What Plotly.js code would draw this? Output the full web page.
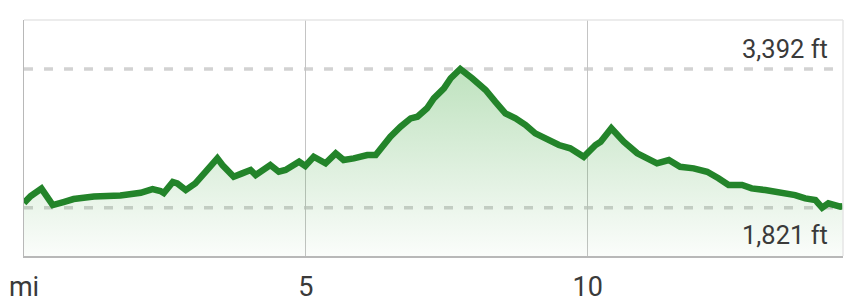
<!DOCTYPE html>
<html>
<head>
<meta charset="utf-8">
<script src="https://cdn.plot.ly/plotly-3.0.1.min.js"></script>
<style>html,body{margin:0;padding:0;background:#fff;}#chart{width:859px;height:304px;}</style>
</head>
<body>
<div id="chart"></div>
<script>
// Distance along the trail (miles)
var distanceMi = [0.00,0.12,0.31,0.40,0.51,0.70,0.88,1.24,1.71,2.07,2.28,2.42,2.48,2.64,2.72,2.87,3.04,3.22,3.43,3.52,
  3.72,3.87,4.02,4.11,4.37,4.52,4.64,4.88,4.99,5.14,5.35,5.53,5.67,5.85,6.09,6.24,6.50,6.68,6.86,6.98,
  7.15,7.27,7.45,7.57,7.74,7.95,8.19,8.36,8.54,8.72,8.90,9.07,9.25,9.49,9.69,9.93,10.14,10.23,10.42,10.64,
  10.88,11.08,11.23,11.44,11.64,11.88,12.12,12.32,12.50,12.74,12.91,13.15,13.33,13.51,13.68,13.86,14.04,14.16,14.27,14.48,14.53];
// Elevation (feet)
var elevationFt = [1874,1953,2038,1964,1851,1885,1919,1947,1959,1990,2032,2010,1987,2112,2097,2021,2097,2228,2380,2304,
  2172,2210,2248,2191,2304,2228,2248,2342,2293,2398,2324,2437,2361,2380,2418,2418,2625,2738,2833,2852,
  2947,3060,3173,3287,3392,3287,3154,3022,2890,2833,2758,2663,2607,2531,2494,2398,2531,2568,2720,2568,
  2437,2380,2324,2361,2285,2267,2228,2154,2078,2078,2040,2021,2002,1984,1964,1927,1908,1821,1870,1832,1840];
var xTickVals = [0, 5, 10];
var xTickText = ["mi", "5", "10"];
var maxElev = 3392;
var minElev = 1821;
var xRange = [0, 14.53];
var yRange = [1274, 3947];

function fmt(v){ return v.toLocaleString('en-US') + ' ft'; }

var trace = {
  x: distanceMi, y: elevationFt, type: 'scatter', mode: 'lines',
  line: {color: '#23842a', width: 6.5, shape: 'linear'},
  fill: 'tozeroy',
  fillgradient: {type: 'vertical', start: yRange[0], stop: maxElev,
    colorscale: [[0, 'rgba(40,150,40,0.02)'], [1, 'rgba(40,160,40,0.3)']]},
  hoverinfo: 'none'
};

var layout = {
  width: 859, height: 304,
  margin: {l: 24, r: 16, t: 20, b: 48},
  paper_bgcolor: '#ffffff', plot_bgcolor: '#ffffff',
  showlegend: false,
  font: {family: 'Roboto, sans-serif', color: '#3a3a3a'},
  xaxis: {range: xRange, tickvals: xTickVals, ticktext: xTickText, showgrid: true,
    gridcolor: '#c4c4c4', gridwidth: 1, zeroline: false, showline: true, linecolor: '#b8b8b8', linewidth: 1.5,
    ticks: '', ticklabelstandoff: 6, tickfont: {size: 27, color: '#3a3a3a'}, fixedrange: true},
  yaxis: {range: yRange, showgrid: false, zeroline: false, showticklabels: false, showline: true,
    linecolor: '#b8b8b8', linewidth: 1.5, ticks: '', fixedrange: true},
  shapes: [
    {type: 'line', xref: 'paper', yref: 'y', x0: 0, x1: 1, y0: maxElev, y1: maxElev, layer: 'below',
      line: {color: '#d2d2d2', width: 3.5, dash: '9px,11px'}},
    {type: 'line', xref: 'paper', yref: 'y', x0: 0, x1: 1, y0: minElev, y1: minElev, layer: 'below',
      line: {color: '#d2d2d2', width: 3.5, dash: '9px,11px'}},
    {type: 'line', xref: 'paper', yref: 'paper', x0: 0, x1: 1, y0: 1, y1: 1, layer: 'above',
      line: {color: '#e6e6e6', width: 1.5}},
    {type: 'line', xref: 'paper', yref: 'paper', x0: 1, x1: 1, y0: 0, y1: 1, layer: 'above',
      line: {color: '#e6e6e6', width: 1.5}}
  ],
  annotations: [
    {xref: 'paper', yref: 'y', x: 1, y: maxElev, xanchor: 'right', yanchor: 'bottom', xshift: -13, yshift: 3,
      text: fmt(maxElev), showarrow: false, font: {size: 25.5, color: '#3a3a3a'}},
    {xref: 'paper', yref: 'y', x: 1, y: minElev, xanchor: 'right', yanchor: 'top', xshift: -13, yshift: -10,
      text: fmt(minElev), showarrow: false, font: {size: 25.5, color: '#3a3a3a'}}
  ]
};

Plotly.newPlot('chart', [trace], layout, {displayModeBar: false, staticPlot: true});
</script>
</body>
</html>
